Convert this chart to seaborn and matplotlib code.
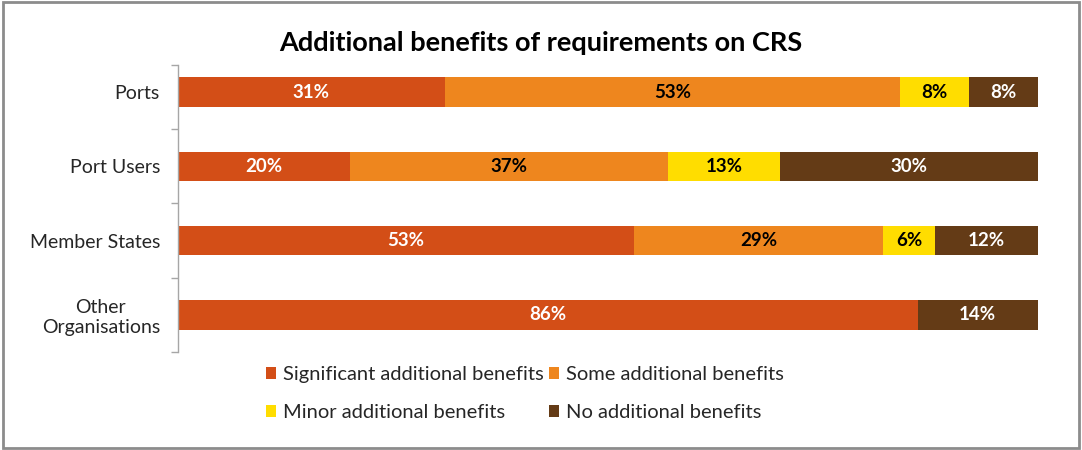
import numpy as np
import pandas as pd
import seaborn as sns
import matplotlib.pyplot as plt
from matplotlib.patches import Rectangle, Patch

# data (percent of respondents)
groups = ['Ports', 'Port Users', 'Member States', 'Other\nOrganisations']
series = ['Significant additional benefits', 'Some additional benefits',
          'Minor additional benefits', 'No additional benefits']
significant = [31, 20, 53, 86]
some = [53, 37, 29, 0]
minor = [8, 13, 6, 0]
none_ = [8, 30, 12, 14]

colors = ['#D34E17', '#EE861E', '#FFDD00', '#643B16']
label_colors = ['white', 'black', 'black', 'white']

sns.set_style('white')
plt.rcParams['font.family'] = ['Lato', 'DejaVu Sans']

values = np.array([significant, some, minor, none_], dtype=float)
cum = values.cumsum(axis=0)
df = pd.DataFrame({'group': groups})
for i, s in enumerate(series):
    df[s] = cum[i]

fig = plt.figure(figsize=(10.82, 4.5), dpi=100)
ax = fig.add_axes([0.1645, 0.2178, 0.9593 - 0.1645, 0.8778 - 0.2178])

# stacked bars: draw the cumulative totals from the largest down
for i in reversed(range(len(series))):
    sns.barplot(data=df, x=series[i], y='group', orient='h', color=colors[i],
                saturation=1, width=0.40, linewidth=0, ax=ax)

# segment labels
for i in range(len(series)):
    for j in range(len(groups)):
        v = values[i, j]
        if v <= 0:
            continue
        center = cum[i, j] - v / 2
        ax.text(center, j, f'{int(v)}%', ha='center', va='center',
                color=label_colors[i], fontsize=13.5, fontweight='bold')

ax.set_xlim(0, 100)
ax.set_ylim(3.5, -0.5)
ax.set_xlabel('')
ax.set_ylabel('')
ax.set_xticks([])
for side in ['top', 'right', 'bottom']:
    ax.spines[side].set_visible(False)
ax.spines['left'].set_color('#A6A6A6')
ax.spines['left'].set_linewidth(1)
ax.spines['left'].set_bounds(-0.365, 3.5)

ax.set_yticks(np.arange(len(groups)))
ax.set_yticklabels(groups, fontsize=14, color='#262626')
ax.set_yticks([-0.365, 0.5, 1.5, 2.5, 3.5], minor=True)
ax.tick_params(axis='y', which='major', left=False, length=0, pad=13)
ax.tick_params(axis='y', which='minor', left=True, length=5, color='#A6A6A6', width=1)
for lbl in ax.get_yticklabels():
    lbl.set_multialignment('center')

fig.text(0.5, 0.905, 'Additional benefits of requirements on CRS', ha='center',
         va='center', fontsize=19.5, fontweight='bold', color='black')

# legend (column-first order so rows read left-to-right)
order = [0, 2, 1, 3]
handles = [Patch(facecolor=colors[k], edgecolor='none', label=series[k]) for k in order]
fig.legend(handles=handles, loc='center', bbox_to_anchor=(0.485, 0.125), ncol=2,
           frameon=False, fontsize=14.5, handlelength=0.5, handleheight=0.5,
           handletextpad=0.35, columnspacing=0.25, labelspacing=1.05,
           labelcolor='#262626')

# outer chart border
fig.patches.append(Rectangle((0.003, 0.005), 0.994, 0.99, transform=fig.transFigure,
                             fill=False, edgecolor='#8C8C8C', linewidth=2))

fig.savefig('out.png', dpi=100)
